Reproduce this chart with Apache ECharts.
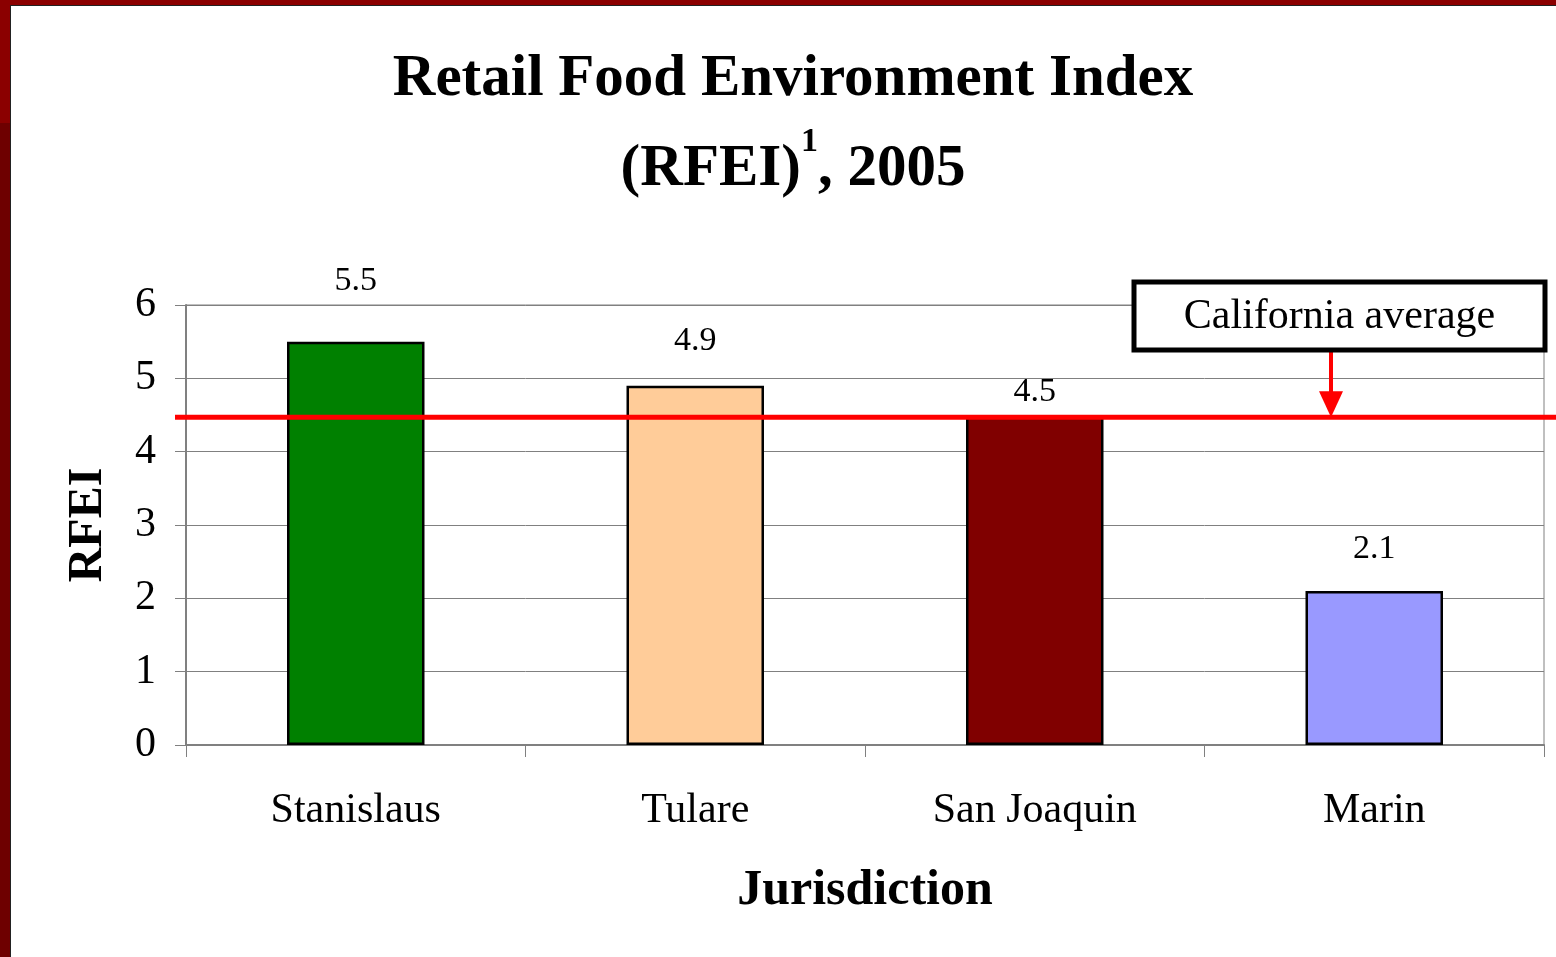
<!DOCTYPE html>
<html>
<head>
<meta charset="utf-8">
<title>Retail Food Environment Index</title>
<script src="https://cdn.jsdelivr.net/npm/echarts@6/dist/echarts.min.js"></script>
<style>
    html, body { margin: 0; padding: 0; background: #fff; }
    #myChart { width: 1556px; height: 957px; }
</style>
</head>
<body>
<div id="myChart"></div>
<script>
    // data
    var jurisdictions = ['Stanislaus', 'Tulare', 'San Joaquin', 'Marin'];
    var rfeiValues = [5.5, 4.9, 4.5, 2.1];
    var caAverage = 4.47;
    var yTicks = [0, 1, 2, 3, 4, 5, 6];

    // styling (not data)
    var barColors = ['#008000', '#FFCC99', '#800000', '#9999FF'];
    var labelGaps = [44, 28, 6, 25];

    var FONT = '"Liberation Serif", "Times New Roman", serif';
    var myChart;

    function getMyChart() {
        if (typeof myChart !== 'undefined') { return myChart; }
        myChart = echarts.init(document.getElementById('myChart'), null, {renderer: 'canvas'});
        return myChart;
    }

    function buildBars() {
        var list = [];
        for (var i = 0; i < rfeiValues.length; i++) {
            list.push({
                value: rfeiValues[i],
                itemStyle: {color: barColors[i]},
                label: {distance: labelGaps[i]}
            });
        }
        return list;
    }

    function initChartOptions() {
        return {
            backgroundColor: '#fff',
            animation: false,
            title: {
                text: 'Retail Food Environment Index\n(RFEI){sup|1}, 2005',
                left: 788,
                top: 30,
                textAlign: 'center',
                textStyle: {
                    fontFamily: FONT,
                    fontSize: 59,
                    fontWeight: 'bold',
                    color: '#000',
                    lineHeight: 90,
                    rich: {
                        sup: {
                            fontFamily: FONT,
                            fontSize: 34,
                            fontWeight: 'bold',
                            color: '#000',
                            verticalAlign: 'top',
                            lineHeight: 62
                        }
                    }
                }
            },
            grid: {
                left: 186,
                right: 12,
                top: 305,
                bottom: 212,
                show: true,
                borderColor: '#808080',
                borderWidth: 1,
                backgroundColor: 'transparent'
            },
            xAxis: {
                type: 'category',
                data: jurisdictions,
                name: 'Jurisdiction',
                nameLocation: 'middle',
                nameGap: 121,
                nameTextStyle: {fontFamily: FONT, fontSize: 50, fontWeight: 'bold', color: '#000'},
                axisLine: {lineStyle: {color: '#808080', width: 2}},
                axisTick: {show: true, length: 12, lineStyle: {color: '#808080', width: 1}},
                axisLabel: {fontFamily: FONT, fontSize: 42, color: '#000', margin: 45}
            },
            yAxis: {
                type: 'value',
                min: yTicks[0],
                max: yTicks[yTicks.length - 1],
                interval: 1,
                name: 'RFEI',
                nameLocation: 'middle',
                nameGap: 73,
                nameRotate: 90,
                nameTextStyle: {fontFamily: FONT, fontSize: 48, fontWeight: 'bold', color: '#000'},
                axisLine: {show: true, lineStyle: {color: '#808080', width: 2}},
                axisTick: {show: true, length: 11, lineStyle: {color: '#808080', width: 1}},
                axisLabel: {fontFamily: FONT, fontSize: 42, color: '#000', margin: 30},
                splitLine: {show: true, lineStyle: {color: '#808080', width: 1}}
            },
            series: [{
                type: 'bar',
                data: buildBars(),
                barWidth: '40.5%',
                itemStyle: {borderColor: '#000', borderWidth: 2.5},
                label: {
                    show: true,
                    position: 'top',
                    distance: 28,
                    fontFamily: FONT,
                    fontSize: 34,
                    color: '#000'
                },
                z: 2
            }]
        };
    }

    // frame, California average line, callout box
    function addDecorations() {
        var chart = getMyChart();
        var lineY = chart.convertToPixel({yAxisIndex: 0}, caAverage);
        var boxX = 1134, boxY = 282, boxW = 411, boxH = 68;
        var arrowX = 1331;
        chart.setOption({
            graphic: [
                {id: 'frameTop', type: 'rect', shape: {x: 0, y: 0, width: 1556, height: 5}, style: {fill: '#8B0000'}, z: 100},
                {id: 'frameLeft', type: 'rect', shape: {x: 0, y: 0, width: 10, height: 123}, style: {fill: '#8B0000'}, z: 100},
                {id: 'frameLeft2', type: 'rect', shape: {x: 0, y: 123, width: 10, height: 834}, style: {fill: '#6E0000'}, z: 100},
                {id: 'frameEdgeV', type: 'rect', shape: {x: 10, y: 5, width: 1, height: 952}, style: {fill: '#222'}, z: 100},
                {id: 'frameEdgeH', type: 'rect', shape: {x: 10, y: 5, width: 1546, height: 1}, style: {fill: '#222'}, z: 100},
                {
                    id: 'caLine', type: 'line',
                    shape: {x1: 175, y1: lineY, x2: 1556, y2: lineY},
                    style: {stroke: '#FF0000', lineWidth: 5},
                    z: 50
                },
                {
                    id: 'caArrow', type: 'line',
                    shape: {x1: arrowX, y1: boxY + boxH, x2: arrowX, y2: lineY - 22},
                    style: {stroke: '#FF0000', lineWidth: 4},
                    z: 50
                },
                {
                    id: 'caHead', type: 'polygon',
                    shape: {points: [[arrowX - 12, lineY - 26], [arrowX + 12, lineY - 26], [arrowX, lineY]]},
                    style: {fill: '#FF0000'},
                    z: 50
                },
                {
                    id: 'caBox', type: 'rect',
                    shape: {x: boxX, y: boxY, width: boxW, height: boxH},
                    style: {fill: '#fff', stroke: '#000', lineWidth: 5},
                    z: 60
                },
                {
                    id: 'caText', type: 'text',
                    x: boxX + boxW / 2, y: boxY + boxH / 2 + 1,
                    style: {
                        text: 'California average',
                        fontFamily: FONT, fontSize: 42, fill: '#000',
                        align: 'center', verticalAlign: 'middle'
                    },
                    z: 61
                }
            ]
        });
    }

    function init() {
        getMyChart().setOption(initChartOptions());
        addDecorations();
    }

    init();
</script>
</body>
</html>
